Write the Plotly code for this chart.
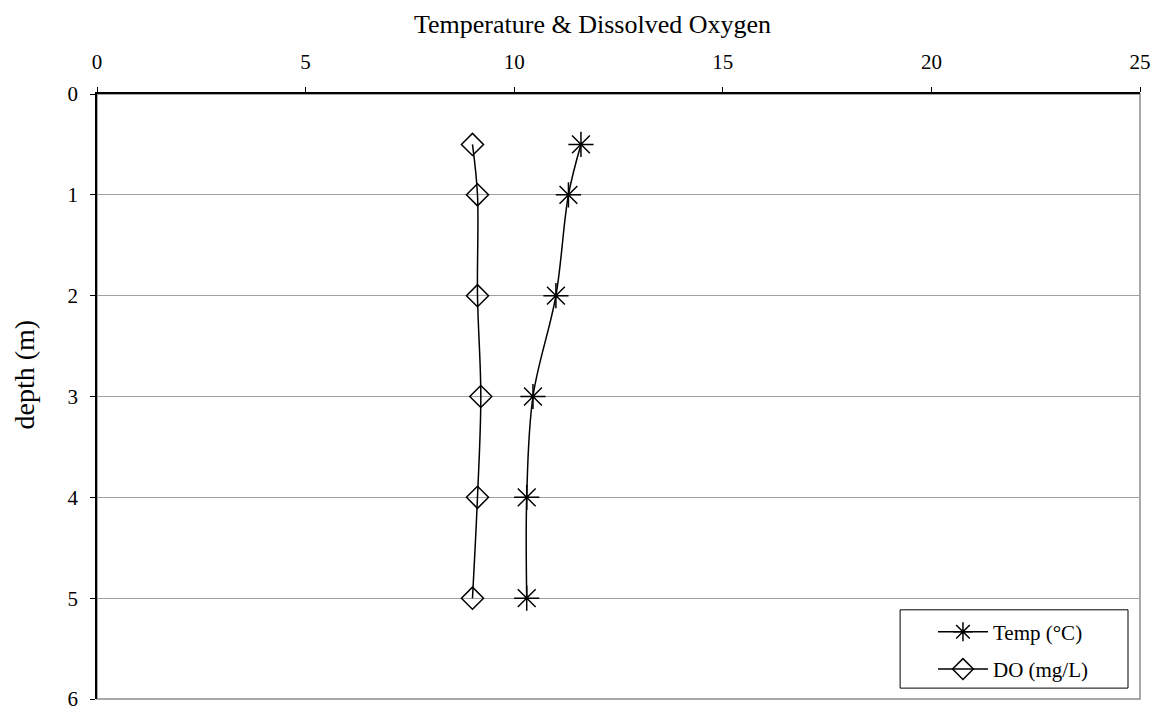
import plotly.graph_objects as go

depth = [0.5, 1, 2, 3, 4, 5]
temp_c = [11.6, 11.3, 11.0, 10.45, 10.3, 10.3]
do_mgl = [9.0, 9.12, 9.12, 9.2, 9.12, 9.0]

font_family = "Liberation Serif, Times New Roman, serif"

fig = go.Figure()

fig.add_trace(go.Scatter(
    x=temp_c, y=depth,
    mode='lines+markers',
    name='Temp (°C)',
    legendgroup='temp',
    line=dict(color='black', width=1.5, shape='spline'),
    marker=dict(symbol='asterisk-open', size=21, color='black',
                line=dict(color='black', width=1.5))
))

fig.add_trace(go.Scatter(
    x=do_mgl, y=depth,
    mode='lines+markers',
    name='DO (mg/L)',
    legendgroup='do',
    line=dict(color='black', width=1.5, shape='spline'),
    marker=dict(symbol='diamond-open', size=17, color='black',
                line=dict(color='black', width=1.5))
))

# cadre gris à droite et en bas
fig.add_shape(type='rect', xref='paper', yref='paper', x0=0, y0=0, x1=1, y1=1,
              line=dict(color='#8c8c8c', width=1.5), layer='below')
# cadre de la légende
fig.add_shape(type='rect', xref='paper', yref='paper', x0=0.770, y0=0.018, x1=0.9885, y1=0.1474,
              line=dict(color='black', width=1), fillcolor='white', layer='above')

# titres des axes (décalés comme dans l'original)
fig.add_annotation(text='Temperature & Dissolved Oxygen', xref='paper', yref='paper',
                   x=0.4746, y=1, xanchor='center', yanchor='middle', yshift=70,
                   showarrow=False, font=dict(size=26))
fig.add_annotation(text='depth (m)', xref='paper', yref='paper',
                   x=0, y=0.5364, xanchor='center', yanchor='middle', xshift=-73,
                   textangle=-90, showarrow=False, font=dict(size=28))

# la page html ajoute 8px de marge au body
fig.update_layout(
    width=1159, height=711,
    margin=dict(l=89, r=27, t=86, b=20),
    paper_bgcolor='white',
    plot_bgcolor='white',
    font=dict(family=font_family, size=21, color='black'),
    showlegend=True,
    legend=dict(
        x=0.8015, xanchor='left', y=0.1445, yanchor='top',
        borderwidth=0, bgcolor='rgba(0,0,0,0)',
        font=dict(size=21), itemwidth=50,
        traceorder='grouped', tracegroupgap=7
    ),
    xaxis=dict(
        side='top', range=[0, 25], dtick=5, tick0=0,
        showgrid=False, zeroline=False, automargin=False,
        showline=True, linecolor='black', linewidth=1.5,
        ticks='outside', ticklen=5, tickcolor='black',
        ticklabelstandoff=10,
    ),
    yaxis=dict(
        range=[6, 0], dtick=1, tick0=0,
        showgrid=True, gridcolor='#a0a0a0', gridwidth=1,
        zeroline=False, automargin=False,
        showline=True, linecolor='black', linewidth=1.5,
        ticks='outside', ticklen=5, tickcolor='black',
        ticklabelstandoff=8,
    ),
)

fig.write_html("out.html")
